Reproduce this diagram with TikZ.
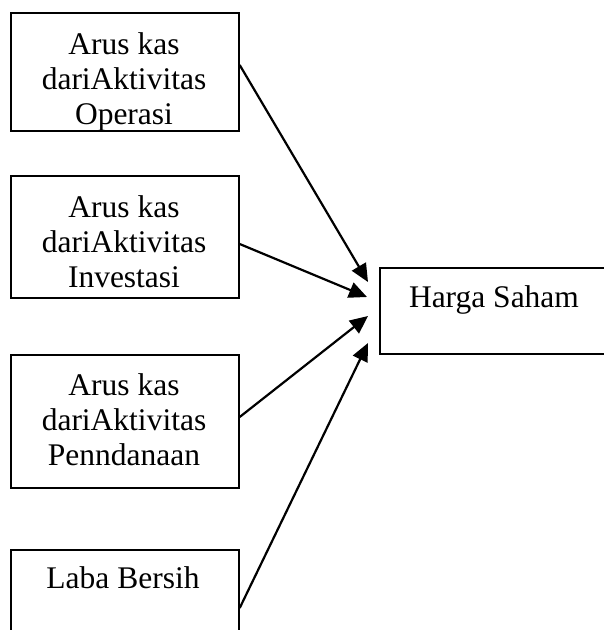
\documentclass[tikz,border=0pt]{standalone}
\usepackage{fontspec}
\setmainfont{Liberation Serif}
\usetikzlibrary{arrows.meta}
\tikzset{
  box/.style={draw, line width=1.7pt, minimum width=228pt, inner sep=0pt, anchor=north west},
  txt/.style={font=\fontsize{31.5}{35}\selectfont, align=center, inner sep=0pt, anchor=north},
  arr/.style={line width=2.2pt, -{Triangle[length=18pt,width=16pt]}}
}
\begin{document}
\begin{tikzpicture}[x=1pt,y=-1pt]
\useasboundingbox (0,0) rectangle (604,630);
\clip (0,0) rectangle (604,630);
% boxes
\node[box, minimum height=118pt] (b1) at (10,12) {};
\node[box, minimum height=122pt] (b2) at (10,175) {};
\node[box, minimum height=133pt] (b3) at (10,354) {};
\node[box, minimum height=101pt] (b4) at (10,549) {};
\node[box, minimum width=241pt, minimum height=86pt] (h) at (379,267) {};
% texts
\node[txt] (l1) at (124,29.5) {\strut Arus kas\\dariAktivitas\\Operasi};
\node[txt] (l2) at (124,192.5) {\strut Arus kas\\dariAktivitas\\Investasi};
\node[txt] (l3) at (124,370.5) {\strut Arus kas\\dariAktivitas\\Penndanaan};
\node[txt] (l4) at (123,563.5) {\strut Laba Bersih};
\node[txt] (lh) at (494,282.5) {\strut Harga Saham};
% connector ends
\coordinate (s1) at ([yshift=-53pt]b1.north east);
\coordinate (s2) at ([yshift=-69pt]b2.north east);
\coordinate (s3) at ([yshift=-63pt]b3.north east);
\coordinate (s4) at ([yshift=-59pt]b4.north east);
\coordinate (t1) at ([xshift=-11pt,yshift=-15pt]h.north west);
\coordinate (t2) at ([xshift=-12pt,yshift=-30pt]h.north west);
\coordinate (t3) at ([xshift=-11pt,yshift=-49pt]h.north west);
\coordinate (t4) at ([xshift=-11pt,yshift=-76pt]h.north west);
% connectors
\draw[arr] (s1) -- (t1);
\draw[arr] (s2) -- (t2);
\draw[arr] (s3) -- (t3);
\draw[arr] (s4) -- (t4);
\end{tikzpicture}
\end{document}
